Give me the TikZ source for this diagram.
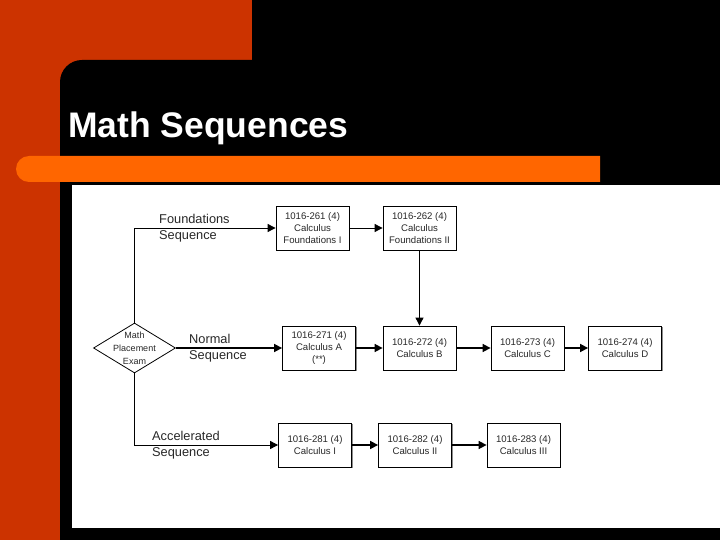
\documentclass[tikz,border=0pt]{standalone}
\usepackage{fontspec}
\setmainfont{Liberation Sans}
\usetikzlibrary{shapes.geometric,arrows.meta,shadows}
\definecolor{slred}{RGB}{204,51,0}
\definecolor{slorange}{RGB}{255,102,0}
\definecolor{txt}{RGB}{40,40,40}
\begin{document}
\begin{tikzpicture}[x=1pt,y=-1pt,
  course/.style={draw=black, line width=0.8pt, fill=white, minimum width=73pt, minimum height=44pt,
    align=center, font=\fontsize{9.6}{12}\selectfont, text=txt, inner sep=1pt,
    drop shadow={shadow xshift=1.2pt, shadow yshift=-1.2pt, fill=black!45, opacity=1}},
  seqlabel/.style={anchor=west, align=left, font=\fontsize{12.8}{16}\selectfont, text=txt, inner sep=0pt},
  arr/.style={-{Triangle[length=8pt,width=8pt]}, line width=0.9pt},
  arrb/.style={-{Triangle[length=8pt,width=8pt]}, line width=1.6pt}]
\useasboundingbox (0,0) rectangle (720,540);
% background
\fill[slred] (0,0) rectangle (720,540);
\fill[black] (252,0) -- (720,0) -- (720,540) -- (60,540) -- (60,82) arc[start angle=180, end angle=90, x radius=22, y radius=-22] -- (252,60) -- cycle;
\fill[slorange] (600,156) -- (600,182) -- (29,182) arc[start angle=270, end angle=90, x radius=13, y radius=-13] -- cycle;
\fill[white] (72,185) rectangle (720,528);
\node[anchor=base west, text=white, font=\bfseries\fontsize{35.5}{40}\selectfont, inner sep=0pt] (title) at (68,138) {Math Sequences};
% diagram
\node[course] (FI) at (312.5,228) {1016-261 (4)\\Calculus\\Foundations I};
\node[course] (FII) at (419.5,228) {1016-262 (4)\\Calculus\\Foundations II};
\node[course] (A) at (319,348) {1016-271 (4)\\Calculus A\\(**)};
\node[course] (B) at (419.5,348) {1016-272 (4)\\Calculus B};
\node[course] (C) at (527.5,348) {1016-273 (4)\\Calculus C};
\node[course] (D) at (625,348) {1016-274 (4)\\Calculus D};
\node[course] (I) at (315,445) {1016-281 (4)\\Calculus I};
\node[course] (II) at (415,445) {1016-282 (4)\\Calculus II};
\node[course] (III) at (523.5,445) {1016-283 (4)\\Calculus III};
\node[diamond, draw=black, line width=0.8pt, minimum width=82pt, minimum height=50pt, inner sep=0pt] (exam) at (134.5,348) {};
\node[align=center, font=\fontsize{9}{13}\selectfont, text=txt, inner sep=0pt] (examtext) at (exam.center) {Math\\Placement\\Exam};
\node[seqlabel] (flab) at (159,228) {Foundations\\Sequence};
\node[seqlabel] (nlab) at (189,348) {Normal\\Sequence};
\node[seqlabel] (alab) at (152,445) {Accelerated\\Sequence};
% connectors
\draw[arr] (exam.north) |- (FI.west);
\draw[arr] (exam.south) |- (I.west);
\draw[arrb] (exam.east) -- (A.west);
\draw[arr] (FI.east) -- (FII.west);
\draw[arr] (FII.south) -- (B.north);
\draw[arrb] (A.east) -- (B.west);
\draw[arrb] (B.east) -- (C.west);
\draw[arrb] (C.east) -- (D.west);
\draw[arrb] (I.east) -- (II.west);
\draw[arrb] (II.east) -- (III.west);
\end{tikzpicture}
\end{document}
